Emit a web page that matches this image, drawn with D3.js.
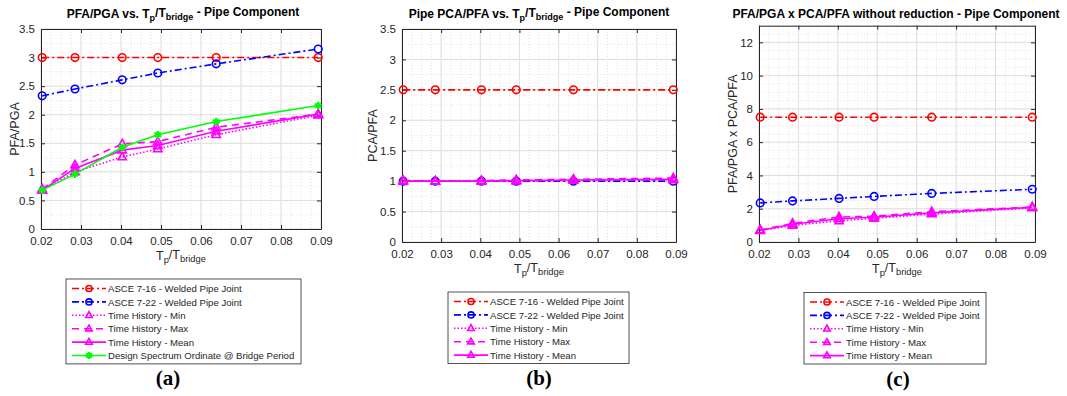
<!DOCTYPE html>
<html>
<head>
<meta charset="utf-8">
<script src="https://cdn.jsdelivr.net/npm/d3@7"></script>
<style>
  body { margin: 0; background: #fff; }
  text { font-family: "Liberation Sans", Arial, sans-serif; }
</style>
</head>
<body>
<script>
// x values (Tp/Tbridge) shared by all panels
const periodRatio = [0.0203, 0.0285, 0.0403, 0.0492, 0.0638, 0.0893];
const xTicks = [0.02, 0.03, 0.04, 0.05, 0.06, 0.07, 0.08, 0.09];

const seriesNames = [
  "ASCE 7-16 - Welded Pipe Joint",
  "ASCE 7-22 - Welded Pipe Joint",
  "Time History - Min",
  "Time History - Max",
  "Time History - Mean",
  "Design Spectrum Ordinate @ Bridge Period"
];

// (a) PFA/PGA
const pfaAsce716 = [3, 3, 3, 3, 3, 3];
const pfaAsce722 = [2.33, 2.45, 2.61, 2.73, 2.89, 3.15];
const pfaMin = [0.68, 1.00, 1.26, 1.40, 1.65, 1.99];
const pfaMax = [0.70, 1.12, 1.49, 1.53, 1.78, 2.01];
const pfaMean = [0.68, 1.06, 1.38, 1.46, 1.71, 2.01];
const pfaDesign = [0.68, 0.96, 1.43, 1.65, 1.88, 2.16];

// (b) PCA/PFA
const pcaAsce716 = [2.5, 2.5, 2.5, 2.5, 2.5, 2.5];
const pcaAsce722 = [1, 1, 1, 1, 1, 1];
const pcaMin = [1.0, 1.0, 1.0, 1.0, 1.01, 1.02];
const pcaMax = [1.01, 1.0, 1.01, 1.02, 1.03, 1.05];
const pcaMean = [1.0, 1.0, 1.0, 1.01, 1.02, 1.03];

// (c) PFA/PGA x PCA/PFA
const prodAsce716 = [7.5, 7.5, 7.5, 7.5, 7.5, 7.5];
const prodAsce722 = [2.35, 2.47, 2.62, 2.74, 2.92, 3.17];
const prodMin = [0.68, 1.00, 1.27, 1.42, 1.68, 2.05];
const prodMax = [0.72, 1.12, 1.50, 1.55, 1.82, 2.10];
const prodMean = [0.70, 1.07, 1.40, 1.49, 1.75, 2.08];

// line looks, one per legend entry
const styles = [
  { color: "#ff0000", dash: "7,3,2,3", marker: "circle" },
  { color: "#0000ff", dash: "7,3,2,3", marker: "circle" },
  { color: "#ff00ff", dash: "1.5,2", marker: "triangle" },
  { color: "#ff00ff", dash: "7,5", marker: "triangle" },
  { color: "#ff00ff", dash: null, marker: "triangle" },
  { color: "#00ff00", dash: null, marker: "star" }
];

const svg = d3.select("body").append("svg")
  .attr("width", 1067).attr("height", 396)
  .style("background", "#fff");

function drawMarker(g, type, x, y, color, small) {
  const k = small ? 0.8 : 1;
  if (type == "circle") {
    g.append("circle").attr("cx", x).attr("cy", y).attr("r", 3.8 * k)
      .attr("fill", "none").attr("stroke", color).attr("stroke-width", 1.6);
  } else if (type == "triangle") {
    const s = 4.6 * k;
    g.append("path")
      .attr("d", `M${x},${y - s} L${x + s * 0.9},${y + s * 0.6} L${x - s * 0.9},${y + s * 0.6} Z`)
      .attr("fill", "none").attr("stroke", color).attr("stroke-width", 1.6);
  } else {
    g.append("path").attr("d", d3.symbol(d3.symbolAsterisk, 40 * k)())
      .attr("transform", `translate(${x},${y})`)
      .attr("fill", "none").attr("stroke", color).attr("stroke-width", 2.4);
  }
}

function subLabel(sel, parts) {
  // parts: [text, isSub, backUp]
  parts.forEach(p => {
    sel.append("tspan")
      .attr("font-size", p[1] ? "0.75em" : null)
      .attr("dy", p[1] ? "0.35em" : (p[2] ? "-0.35em" : null))
      .text(p[0]);
  });
}

function drawPanel(cfg) {
  const g = svg.append("g");
  const x = d3.scaleLinear().domain([0.02, 0.09]).range([cfg.left, cfg.right]);
  const y = d3.scaleLinear().domain([0, cfg.yMax]).range([cfg.bottom, cfg.top]);

  // minor grid
  const xMinor = d3.range(0.02, 0.0901, 0.0025);
  const yMinor = d3.range(0, cfg.yMax + 1e-9, cfg.yMinor);
  g.selectAll(".xm").data(xMinor).enter().append("line")
    .attr("x1", d => x(d)).attr("x2", d => x(d))
    .attr("y1", cfg.top).attr("y2", cfg.bottom)
    .attr("stroke", "#dcdcdc").attr("stroke-width", 0.8).attr("stroke-dasharray", "1,2");
  g.selectAll(".ym").data(yMinor).enter().append("line")
    .attr("y1", d => y(d)).attr("y2", d => y(d))
    .attr("x1", cfg.left).attr("x2", cfg.right)
    .attr("stroke", "#dcdcdc").attr("stroke-width", 0.8).attr("stroke-dasharray", "1,2");

  // major grid
  g.selectAll(".xg").data(xTicks).enter().append("line")
    .attr("x1", d => x(d)).attr("x2", d => x(d))
    .attr("y1", cfg.top).attr("y2", cfg.bottom)
    .attr("stroke", "#dfdfdf").attr("stroke-width", 1);
  g.selectAll(".yg").data(cfg.yTicks).enter().append("line")
    .attr("y1", d => y(d)).attr("y2", d => y(d))
    .attr("x1", cfg.left).attr("x2", cfg.right)
    .attr("stroke", "#dfdfdf").attr("stroke-width", 1);

  // axes (ticks inward, box around)
  const xAxis = d3.axisBottom(x).tickValues(xTicks).tickFormat(d3.format(".2f"))
    .tickSizeInner(-4).tickSizeOuter(0).tickPadding(8);
  const yAxis = d3.axisLeft(y).tickValues(cfg.yTicks).tickFormat(d => d)
    .tickSizeInner(-4).tickSizeOuter(0).tickPadding(6);
  const gx = g.append("g").attr("transform", `translate(0,${cfg.bottom})`).call(xAxis);
  const gy = g.append("g").attr("transform", `translate(${cfg.left},0)`).call(yAxis);
  g.append("g").attr("transform", `translate(0,${cfg.top})`)
    .call(d3.axisTop(x).tickValues(xTicks).tickFormat("").tickSizeInner(-4).tickSizeOuter(0));
  g.append("g").attr("transform", `translate(${cfg.right},0)`)
    .call(d3.axisRight(y).tickValues(cfg.yTicks).tickFormat("").tickSizeInner(-4).tickSizeOuter(0));
  g.selectAll(".domain").attr("stroke", "#262626");
  g.selectAll(".tick line").attr("stroke", "#262626");
  [gx, gy].forEach(a => a.selectAll("text")
    .attr("fill", "#262626").style("font-size", "11.5px")
    .style("font-family", "'Liberation Sans', Arial, sans-serif"));

  // series
  const line = d3.line().x((d, i) => x(periodRatio[i])).y(d => y(d));
  cfg.series.forEach((vals, k) => {
    const st = styles[k];
    g.append("path").datum(vals).attr("d", line)
      .attr("fill", "none").attr("stroke", st.color).attr("stroke-width", 1.6)
      .attr("stroke-dasharray", st.dash);
    vals.forEach((v, i) => drawMarker(g, st.marker, x(periodRatio[i]), y(v), st.color));
  });

  // title
  const cx = (cfg.left + cfg.right) / 2;
  const t = g.append("text").attr("x", cfg.titleX).attr("y", 18)
    .attr("text-anchor", "middle").attr("font-weight", "bold")
    .style("font-size", "12px").attr("fill", "#000");
  subLabel(t, cfg.title);

  // y label
  g.append("text")
    .attr("transform", `translate(${cfg.yLabelX},${(cfg.top + cfg.bottom) / 2}) rotate(-90)`)
    .attr("text-anchor", "middle").style("font-size", "12.5px").attr("fill", "#262626")
    .text(cfg.yLabel);

  // x label
  const xl = g.append("text").attr("x", cx).attr("y", cfg.bottom + 31)
    .attr("text-anchor", "middle").style("font-size", "12.5px").attr("fill", "#262626");
  subLabel(xl, [["T"], ["p", 1], ["/T", 0, 1], ["bridge", 1]]);

  // legend
  const lg = svg.append("g");
  const n = cfg.series.length;
  lg.append("rect").attr("x", cfg.legX).attr("y", cfg.legY)
    .attr("width", cfg.legW).attr("height", n * 13.4 + 4.5)
    .attr("fill", "#fff").attr("stroke", "#262626").attr("stroke-width", 0.8);
  for (let k = 0; k < n; k++) {
    const st = styles[k];
    const ry = cfg.legY + 9.5 + k * 13.4;
    lg.append("line").attr("x1", cfg.legX + 6).attr("x2", cfg.legX + 40)
      .attr("y1", ry).attr("y2", ry)
      .attr("stroke", st.color).attr("stroke-width", 1.6).attr("stroke-dasharray", st.dash);
    drawMarker(lg, st.marker, cfg.legX + 23, ry, st.color, true);
    lg.append("text").attr("x", cfg.legX + 42).attr("y", ry + 3.6)
      .style("font-size", "9.6px").attr("fill", "#262626").text(seriesNames[k]);
  }

  // panel letter
  svg.append("text").attr("x", cfg.letterX).attr("y", cfg.legY + n * 13.4 + 26)
    .attr("text-anchor", "middle")
    .style("font-family", "'Liberation Serif', 'DejaVu Serif', serif")
    .style("font-size", "21px").attr("font-weight", "bold").attr("fill", "#000")
    .text(cfg.letter);
}

drawPanel({
  left: 41, right: 321, top: 29, bottom: 229,
  yMax: 3.5, yTicks: d3.range(0, 3.51, 0.5), yMinor: 0.25,
  title: [["PFA/PGA vs. T"], ["p", 1], ["/T", 0, 1], ["bridge", 1], [" - Pipe Component", 0, 1]],
  titleX: 183, yLabel: "PFA/PGA", yLabelX: 19,
  series: [pfaAsce716, pfaAsce722, pfaMin, pfaMax, pfaMean, pfaDesign],
  legX: 66, legY: 279, legW: 235, letter: "(a)", letterX: 168
});

drawPanel({
  left: 402, right: 676, top: 29, bottom: 242,
  yMax: 3.5, yTicks: d3.range(0, 3.51, 0.5), yMinor: 0.25,
  title: [["Pipe PCA/PFA vs. T"], ["p", 1], ["/T", 0, 1], ["bridge", 1], [" - Pipe Component", 0, 1]],
  titleX: 539, yLabel: "PCA/PFA", yLabelX: 377,
  series: [pcaAsce716, pcaAsce722, pcaMin, pcaMax, pcaMean],
  legX: 448, legY: 292, legW: 181, letter: "(b)", letterX: 539
});

drawPanel({
  left: 759, right: 1035, top: 25.7, bottom: 242,
  yMax: 13, yTicks: d3.range(0, 12.1, 2), yMinor: 0.5,
  title: [["PFA/PGA x PCA/PFA without reduction - Pipe Component"]],
  titleX: 896, yLabel: "PFA/PGA x PCA/PFA", yLabelX: 737,
  series: [prodAsce716, prodAsce722, prodMin, prodMax, prodMean],
  legX: 804, legY: 292.5, legW: 182, letter: "(c)", letterX: 898
});
</script>
</body>
</html>
